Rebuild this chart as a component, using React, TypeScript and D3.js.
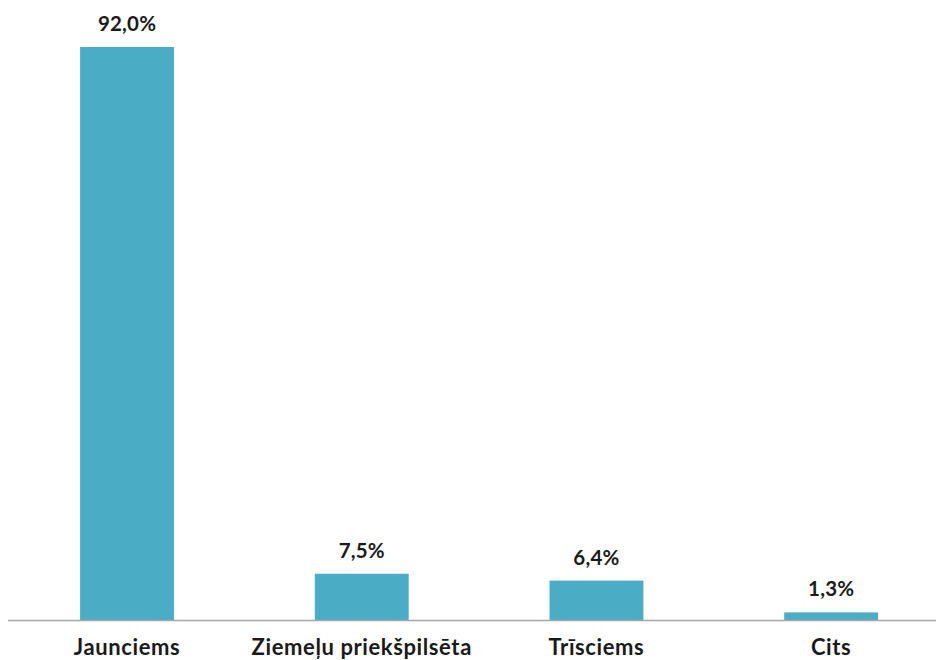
import React from "react";
import * as d3 from "d3";

const categories = ["Jaunciems", "Ziemeļu priekšpilsēta", "Trīsciems", "Cits"];
const values = [92.0, 7.5, 6.4, 1.3];
const valueLabels = ["92,0%", "7,5%", "6,4%", "1,3%"];

const W = 936;
const H = 660;
const FONT = "Lato, 'Open Sans', sans-serif";

export default function App() {
  const baseline = 620.5;
  const x = d3
    .scaleBand<string>()
    .domain(categories)
    .range([9.7, 948.5])
    .paddingInner(0.6)
    .paddingOuter(0.3);
  const y = d3.scaleLinear().domain([0, 92]).range([baseline, 47]);

  return (
    <svg
      width={W}
      height={H}
      style={{ position: "absolute", left: 0, top: 0, background: "#fff" }}
    >
      {categories.map((c, i) => {
        const bx = x(c)!;
        const bw = x.bandwidth();
        const top = y(values[i]);
        return (
          <g key={c}>
            <rect x={bx} y={top} width={bw} height={baseline - top} fill="#4BACC6" />
            <text
              x={bx + bw / 2}
              y={top - 16}
              textAnchor="middle"
              fontFamily={FONT}
              fontWeight={700}
              fontSize={20.5}
              letterSpacing={0.2}
              fill="#1a1a1a"
            >
              {valueLabels[i]}
            </text>
            <text
              x={bx + bw / 2}
              y={655}
              textAnchor="middle"
              fontFamily={FONT}
              fontWeight={700}
              fontSize={22}
              letterSpacing={0.6}
              fill="#1a1a1a"
            >
              {c}
            </text>
          </g>
        );
      })}
      <line x1={8} x2={W} y1={baseline} y2={baseline} stroke="#a6a6a6" strokeWidth={1.5} />
    </svg>
  );
}
